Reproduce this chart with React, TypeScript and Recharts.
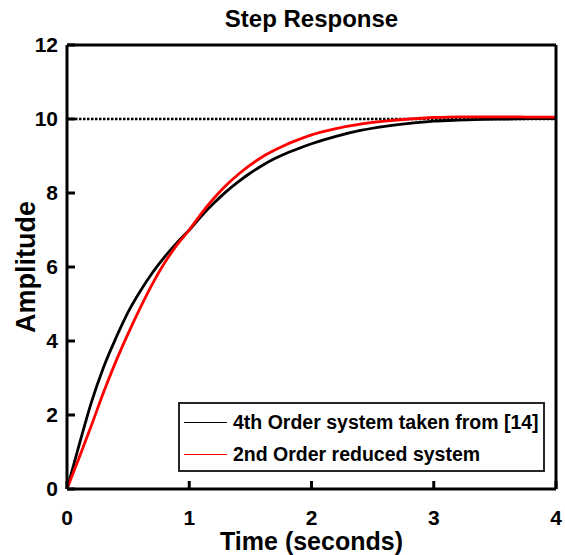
import React from "react";
import { LineChart, Line, XAxis, YAxis, ReferenceLine, Legend, Label } from "recharts";

// time samples (seconds)
const time = [
  0, 0.1, 0.2, 0.3, 0.4, 0.5, 0.6, 0.7, 0.8, 0.9, 1.0, 1.1, 1.2, 1.3, 1.4, 1.5, 1.6, 1.7, 1.8, 1.9,
  2.0, 2.2, 2.4, 2.6, 2.8, 3.0, 3.2, 3.4, 3.6, 3.8, 4.0,
];

// 4th order system taken from [14]
const fourthOrder = [
  0, 1.2, 2.35, 3.3, 4.08, 4.78, 5.35, 5.85, 6.28, 6.66, 7.0, 7.38, 7.72, 8.03, 8.3, 8.54, 8.75, 8.93,
  9.08, 9.21, 9.33, 9.53, 9.69, 9.8, 9.88, 9.94, 9.97, 9.99, 10.0, 10.01, 10.01,
];

// 2nd order reduced system
const secondOrder = [
  0, 0.85, 1.72, 2.62, 3.45, 4.2, 4.9, 5.55, 6.12, 6.6, 7.0, 7.45, 7.85, 8.2, 8.5, 8.76, 8.98, 9.16,
  9.32, 9.45, 9.57, 9.74, 9.86, 9.94, 10.0, 10.04, 10.06, 10.06, 10.06, 10.05, 10.05,
];

const xTicks = [0, 1, 2, 3, 4];
const yTicks = [0, 2, 4, 6, 8, 10, 12];
const finalValue = 10;

const data = time.map((t, i) => ({ t, fourth: fourthOrder[i], second: secondOrder[i] }));

const font = "'Liberation Sans', Arial, sans-serif";

const LegendBox = () => (
  <div
    style={{
      width: 363,
      height: 66,
      border: "2px solid #262626",
      background: "#fff",
      fontFamily: font,
      fontWeight: "bold",
      fontSize: 19.5,
      color: "#000",
      textAlign: "left",
    }}
  >
    {[
      { color: "#000", text: "4th Order system taken from [14]" },
      { color: "#ff0000", text: "2nd Order reduced system" },
    ].map((e, i) => (
      <div key={i} style={{ display: "flex", alignItems: "center", height: 32, marginTop: i === 0 ? 2 : 0 }}>
        <div style={{ width: 43, height: 0, borderTop: `1.5px solid ${e.color}`, marginLeft: 4, marginRight: 6 }} />
        <span>{e.text}</span>
      </div>
    ))}
  </div>
);

const tickStyle = { fontFamily: font, fontWeight: "bold", fontSize: 21, fill: "#000" };
const frame = { stroke: "#000", strokeWidth: 3 };

export default function App() {
  return (
    <div style={{ position: "absolute", left: 0, top: 0, background: "#fff" }}>
      <LineChart width={565} height={555} data={data} margin={{ top: 0, right: 0, bottom: 0, left: 0 }}>
        <XAxis
          xAxisId="bottom"
          dataKey="t"
          type="number"
          domain={[0, 4]}
          ticks={xTicks}
          height={66}
          tickSize={-8}
          tickMargin={29}
          axisLine={frame}
          tickLine={frame}
          tick={tickStyle}
        >
          <Label
            value="Time (seconds)"
            position="insideBottom"
            offset={5}
            style={{ fontFamily: font, fontWeight: "bold", fontSize: 25, fill: "#000" }}
          />
        </XAxis>
        <XAxis
          xAxisId="top"
          orientation="top"
          dataKey="t"
          type="number"
          domain={[0, 4]}
          ticks={xTicks}
          height={45}
          tickSize={-8}
          tick={false}
          axisLine={frame}
          tickLine={frame}
        >
          <Label
            value="Step Response"
            position="insideTop"
            offset={10}
            style={{ fontFamily: font, fontWeight: "bold", fontSize: 24, fill: "#000" }}
          />
        </XAxis>
        <YAxis
          yAxisId="left"
          type="number"
          domain={[0, 12]}
          ticks={yTicks}
          width={67}
          tickSize={-8}
          tickMargin={17}
          axisLine={frame}
          tickLine={frame}
          tick={tickStyle}
        >
          <Label
            value="Amplitude"
            angle={-90}
            position="insideLeft"
            offset={25}
            style={{ fontFamily: font, fontWeight: "bold", fontSize: 27, fill: "#000", textAnchor: "middle" }}
          />
        </YAxis>
        <YAxis
          yAxisId="right"
          orientation="right"
          type="number"
          domain={[0, 12]}
          ticks={yTicks}
          width={9}
          tickSize={-8}
          tick={false}
          axisLine={frame}
          tickLine={frame}
        />
        <ReferenceLine
          xAxisId="bottom"
          yAxisId="left"
          y={finalValue}
          stroke="#000"
          strokeWidth={2.5}
          strokeDasharray="2.5 1.5"
        />
        <Line
          xAxisId="bottom"
          yAxisId="left"
          type="monotone"
          dataKey="fourth"
          stroke="#000"
          strokeWidth={2.8}
          dot={false}
          isAnimationActive={false}
        />
        <Line
          xAxisId="bottom"
          yAxisId="left"
          type="monotone"
          dataKey="second"
          stroke="#ff0000"
          strokeWidth={2.8}
          dot={false}
          isAnimationActive={false}
        />
        <Legend
          content={<LegendBox />}
          layout="horizontal"
          verticalAlign="middle"
          align="center"
          wrapperStyle={{ left: 178, top: 402, width: "auto", height: "auto", bottom: "auto", right: "auto" }}
        />
      </LineChart>
    </div>
  );
}
